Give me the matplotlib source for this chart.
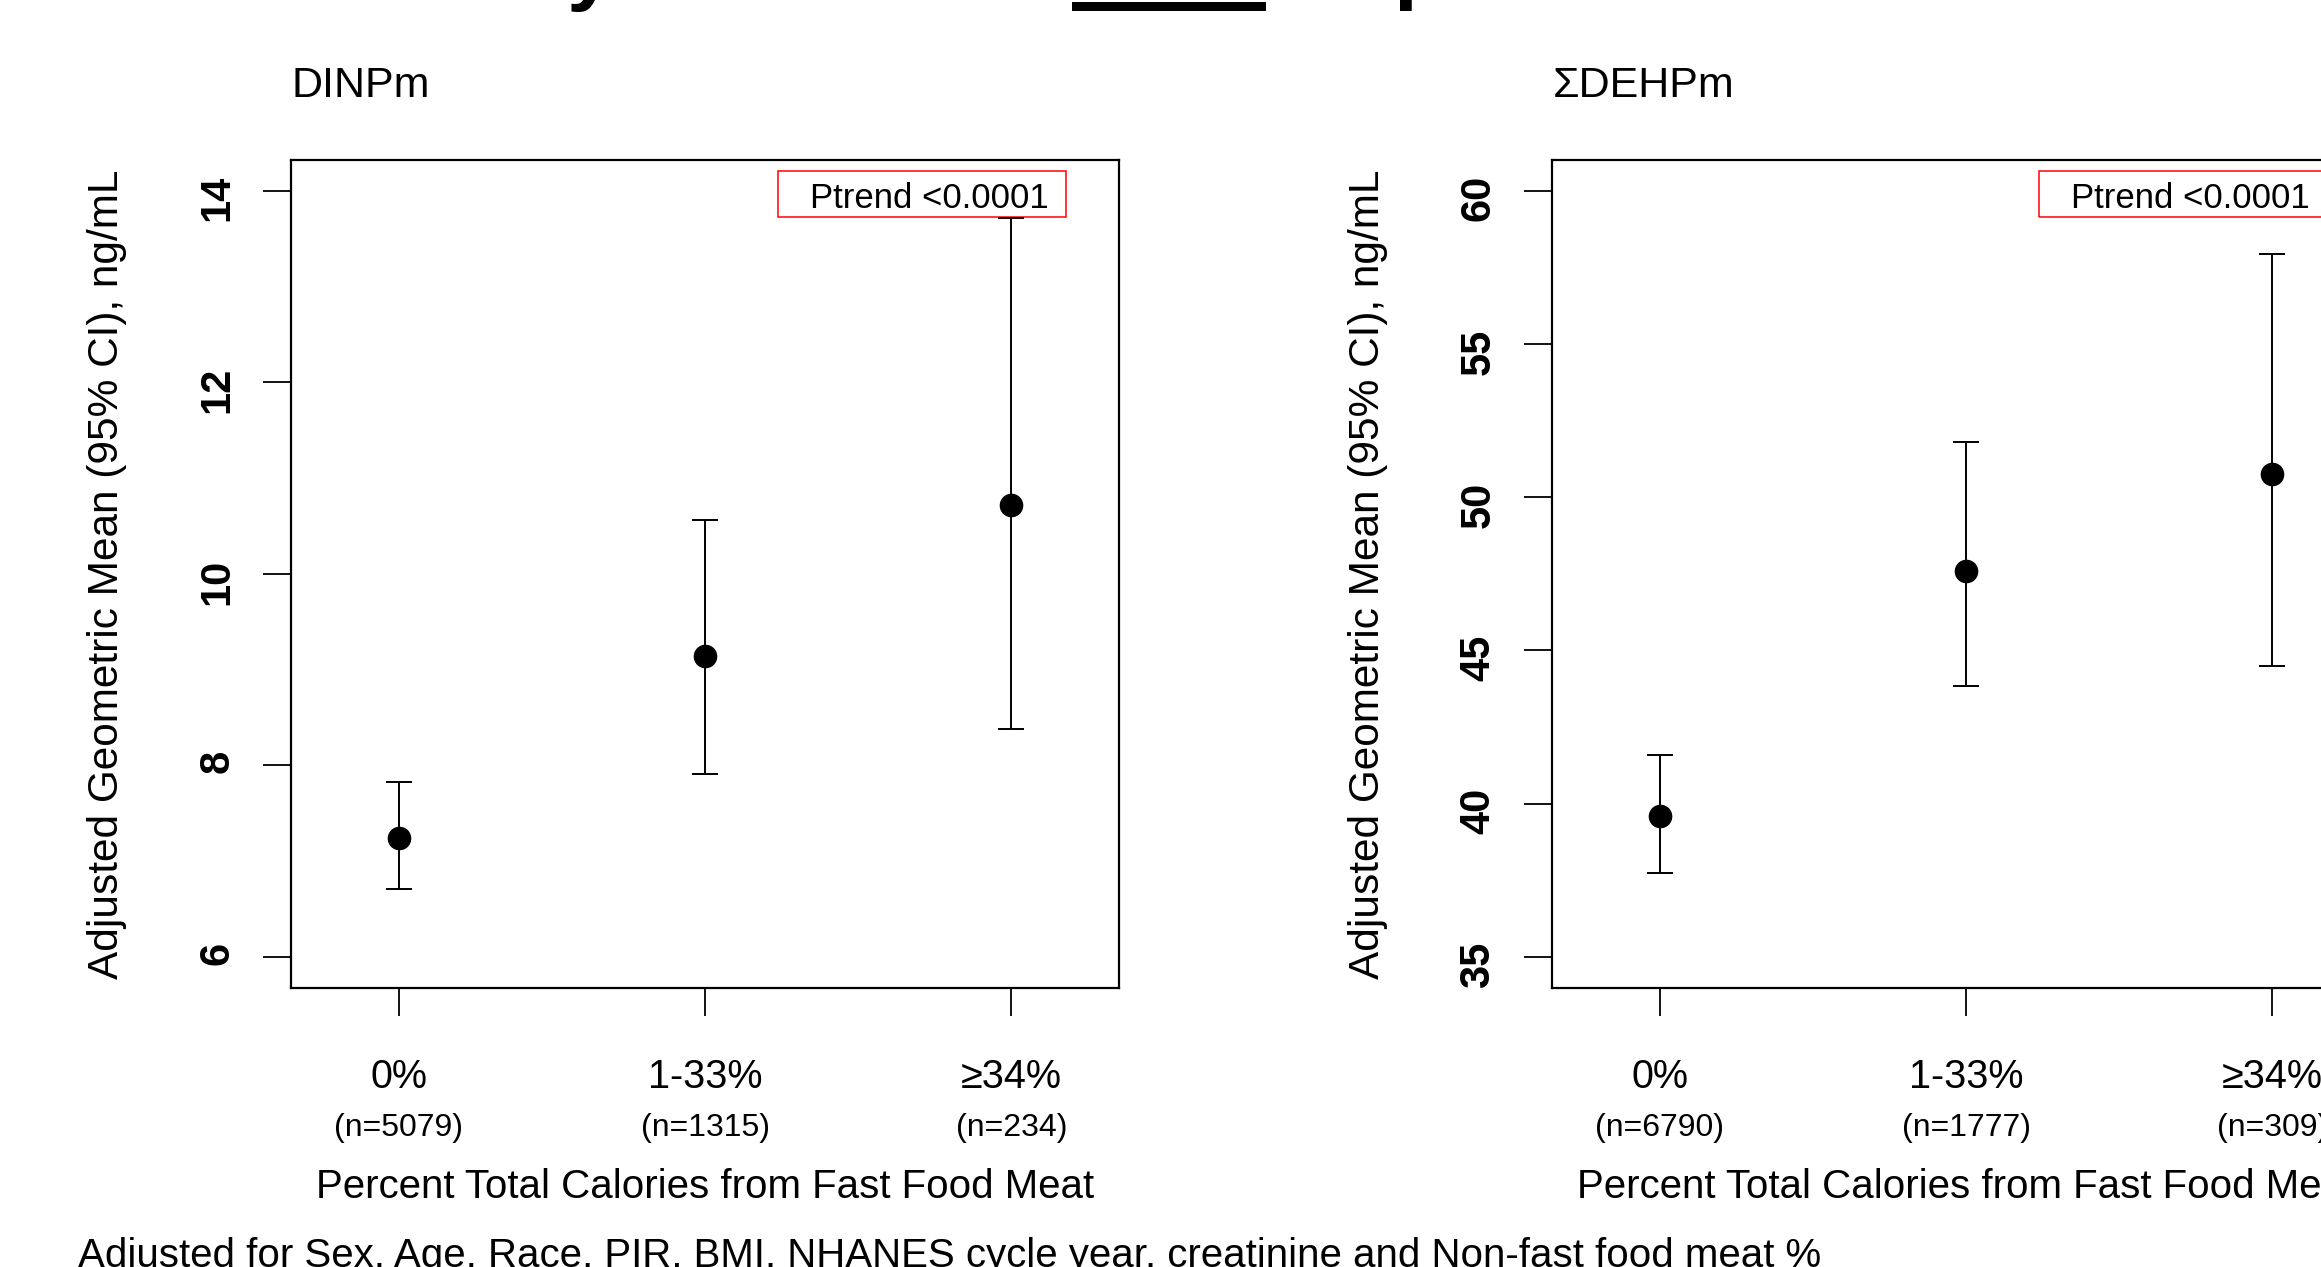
import matplotlib
matplotlib.use("Agg")
import matplotlib.pyplot as plt
import matplotlib.transforms as mtransforms
from matplotlib.patches import Rectangle

plt.rcParams['font.family'] = ['Liberation Sans', 'DejaVu Sans']

W, H = 2321, 1267

# ---- data ----
groups = ["0%", "1-33%", "\u226534%"]
xpos = [1, 2, 3]

dinp_n = ["(n=5079)", "(n=1315)", "(n=234)"]
dinp_gm = [7.24, 9.14, 10.72]
dinp_lo = [6.71, 7.91, 8.38]
dinp_hi = [7.83, 10.56, 13.71]

dehp_n = ["(n=6790)", "(n=1777)", "(n=309)"]
dehp_gm = [39.61, 47.60, 50.75]
dehp_lo = [37.73, 43.84, 44.48]
dehp_hi = [41.60, 51.80, 57.94]

ylabel = "Adjusted Geometric Mean (95% CI), ng/mL"
xlabel = "Percent Total Calories from Fast Food Meat"
ptrend = "Ptrend <0.0001"
footnote = ("Adjusted for Sex, Age, Race, PIR, BMI, NHANES cycle year, "
            "creatinine and Non-fast food meat %")


def fx(px):
    return px / W


def fy(py):
    return 1 - py / H


fig = plt.figure(figsize=(W / 100, H / 100), dpi=100)

# pieces of the (cut off) slide title above the plots
fig.text(fx(590), fy(-6), "y", fontsize=62, fontweight='bold', ha='center', va='baseline')
fig.text(fx(1393), fy(-7), "p", fontsize=62, fontweight='bold', ha='left', va='baseline')
fig.add_artist(Rectangle((fx(1072), fy(11)), (1266 - 1072) / W, 9 / H,
                         transform=fig.transFigure, color='black', lw=0))

tick_family = ['Liberation Sans Narrow', 'Liberation Sans', 'DejaVu Sans']


def draw_panel(left_px, title, gm, lo, hi, ns, ylim, yticks):
    ax = fig.add_axes([fx(left_px), fy(987.6), 827.3 / W, 827.6 / H])
    yerr = [[g - l for g, l in zip(gm, lo)], [h - g for g, h in zip(gm, hi)]]
    ax.errorbar(xpos, gm, yerr=yerr, fmt='o', color='black', ms=16,
                capsize=9.2, elinewidth=1.4, capthick=1.4, clip_on=False)
    ax.set_xlim(0.65, 3.35)
    ax.set_ylim(*ylim)
    ax.set_xticks(xpos)
    ax.set_xticklabels([])
    ax.set_yticks(yticks, labels=[str(t) for t in yticks], fontweight='bold',
                  fontsize=30, family=tick_family)
    ax.tick_params(direction='out', length=20, width=1.3, color='black')
    ax.tick_params(axis='y', labelrotation=90, pad=19)
    for s in ax.spines.values():
        s.set_linewidth(1.6)

    ax.set_ylabel(ylabel, fontsize=30.5)
    ax.yaxis.set_label_coords((127 - 291.4) / 827.3, 0.5)

    # p-trend box
    ax.add_patch(Rectangle((0.588, 0.931), 0.348, 0.0557, transform=ax.transAxes,
                           fill=False, ec='red', lw=1.1, clip_on=False))
    ax.text(0.6263, 0.9425, ptrend, transform=ax.transAxes, fontsize=25,
            ha='left', va='baseline')

    trans = mtransforms.blended_transform_factory(ax.transData, fig.transFigure)
    for x, g, n in zip(xpos, groups, ns):
        ax.text(x, fy(1088), g, transform=trans, ha='center', va='baseline', fontsize=28.5)
        ax.text(x, fy(1136), n, transform=trans, ha='center', va='baseline', fontsize=23)
    ax.text(2, fy(1198), xlabel, transform=trans, ha='center', va='baseline', fontsize=29)

    fig.text(fx(left_px), fy(97), title, ha='left', va='baseline', fontsize=31)
    return ax


draw_panel(291.4, "DINPm", dinp_gm, dinp_lo, dinp_hi, dinp_n,
           (5.68, 14.32), [6, 8, 10, 12, 14])
draw_panel(1552.4, "\u03a3DEHPm", dehp_gm, dehp_lo, dehp_hi, dehp_n,
           (34.0, 61.0), [35, 40, 45, 50, 55, 60])

fig.text(fx(78), fy(1267), footnote, ha='left', va='baseline', fontsize=29)

fig.savefig("out.png", dpi=100)
